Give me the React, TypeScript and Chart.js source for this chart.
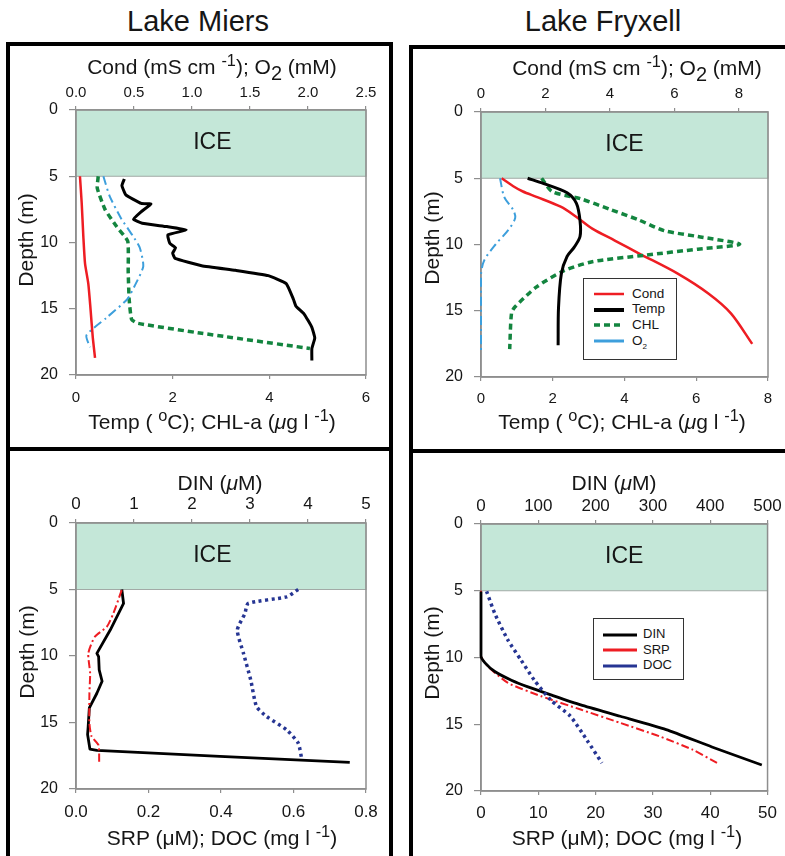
import React, { useEffect, useRef } from "react";
import { Chart, registerables } from "chart.js";

Chart.register(...registerables);

const FONT = '"Liberation Sans", Arial, Helvetica, sans-serif';
const TEXT = "#161616";
const AXIS = "#8e8e8e";

const RED = "#ee1d23";
const BLACK = "#000000";
const GREEN = "#13853f";
const SKY = "#3d9fdc";
const NAVY = "#263593";
const ICE_FILL = "#c4e7d8";

// ---- shared depth axis / ice layer ----
const DEPTH_TICKS = [0, 5, 10, 15, 20];
const ICE_FROM = 0;
const ICE_TO = 5;
const ICE_LABEL = "ICE";
const ICE_LABEL_DEPTH = 2.45;

// ---- Lake Miers: physical / biological ----
const MIERS_BOTTOM_TICKS = [0, 2, 4, 6]; // Temp; CHL-a
const MIERS_TOP_TICKS = [0, 0.5, 1, 1.5, 2, 2.5]; // Cond; O2

const miersCondDepth = [5.0, 7.0, 9.5, 11.6, 13.1, 15.1, 17.1, 18.7];
const miersCond = [0.034, 0.049, 0.063, 0.078, 0.106, 0.126, 0.144, 0.164];

const miersTempDepth = [5.2, 5.7, 6.4, 7.05, 7.1, 7.7, 8.25, 8.55, 8.8, 9.05, 9.43, 10.06, 10.4, 10.8, 11.2, 11.75, 12.1, 12.5, 13.1, 14.3, 14.8, 15.4, 16.4, 17.2, 18.0, 18.9];
const miersTemp = [1.0, 0.95, 1.03, 1.35, 1.55, 1.34, 1.19, 1.37, 1.88, 2.28, 1.9, 1.94, 2.06, 2.0, 2.05, 2.6, 3.3, 3.98, 4.35, 4.5, 4.55, 4.72, 4.88, 4.94, 4.88, 4.88];

const miersChlDepth = [5.0, 5.9, 7.5, 8.8, 9.9, 12.2, 14.3, 15.8, 16.1, 16.85, 18.0];
const miersChl = [0.46, 0.44, 0.6, 0.84, 1.07, 1.08, 1.1, 1.15, 1.28, 2.6, 4.84];

const miersO2Depth = [5.0, 6.5, 8.2, 9.5, 10.4, 11.8, 13.2, 14.3, 15.7, 17.0, 17.9];
const miersO2 = [0.236, 0.29, 0.39, 0.49, 0.55, 0.58, 0.51, 0.44, 0.26, 0.09, 0.12];

// ---- Lake Fryxell: physical / biological ----
const FRYX_BOTTOM_TICKS = [0, 2, 4, 6, 8];
const FRYX_TOP_TICKS = [0, 2, 4, 6, 8];

const fryxCondDepth = [5.0, 5.6, 6.0, 6.4, 7.15, 7.9, 8.8, 9.7, 10.7, 12.2, 13.7, 15.2, 17.5];
const fryxCond = [0.64, 1.0, 1.3, 1.72, 2.47, 2.95, 3.45, 4.15, 4.92, 6.1, 7.05, 7.75, 8.41];

const fryxTempDepth = [5.0, 5.4, 6.1, 6.9, 8.2, 9.4, 10.2, 10.9, 12.2, 14.8, 17.6];
const fryxTemp = [1.3, 1.75, 2.4, 2.66, 2.76, 2.76, 2.6, 2.4, 2.24, 2.16, 2.15];

const fryxChlDepth = [5.0, 6.0, 6.55, 7.35, 8.15, 8.95, 9.4, 9.98, 10.35, 10.8, 11.3, 12.0, 13.2, 14.7, 15.2, 17.9];
const fryxChl = [1.69, 1.98, 2.78, 3.6, 4.4, 5.1, 6.05, 7.21, 6.05, 4.6, 3.1, 2.3, 1.55, 0.95, 0.85, 0.8];

const fryxO2Depth = [5.0, 6.4, 7.4, 8.0, 8.9, 10.0, 11.2, 12.3, 18.0];
const fryxO2 = [0.59, 0.72, 1.0, 1.06, 0.85, 0.45, 0.1, 0.0, 0.0];

// ---- Lake Miers: nutrients ----
const MIERS_SRP_TICKS = [0, 0.2, 0.4, 0.6, 0.8]; // SRP; DOC
const MIERS_DIN_TICKS = [0, 1, 2, 3, 4, 5];

const miersDinDepth = [5.0, 6.05, 8.05, 9.8, 10.05, 11.05, 11.9, 12.8, 13.9, 15.3, 15.9, 17.0, 17.1, 17.55, 18.0];
const miersDin = [0.79, 0.82, 0.59, 0.36, 0.39, 0.4, 0.45, 0.36, 0.23, 0.21, 0.2, 0.24, 0.36, 2.48, 4.72];

const miersSrpDepth = [5.05, 6.8, 7.8, 8.55, 9.8, 11.3, 12.8, 15.05, 16.05, 16.7, 18.05];
const miersSrp = [0.126, 0.103, 0.085, 0.052, 0.034, 0.039, 0.037, 0.037, 0.043, 0.062, 0.064];

const miersDocDepth = [5.0, 5.55, 6.05, 6.8, 8.05, 9.8, 11.8, 13.8, 14.55, 15.55, 16.55, 17.8];
const miersDoc = [0.613, 0.581, 0.475, 0.466, 0.445, 0.462, 0.482, 0.498, 0.526, 0.581, 0.613, 0.623];

// ---- Lake Fryxell: nutrients ----
const FRYX_SRP_TICKS = [0, 10, 20, 30, 40, 50];
const FRYX_DIN_TICKS = [0, 100, 200, 300, 400, 500];

const fryxDinDepth = [5.05, 9.9, 10.4, 11.05, 11.7, 12.2, 12.8, 13.55, 14.4, 15.4, 16.7, 18.05];
const fryxDin = [0, 0, 7, 24, 53, 82, 122, 174, 243, 323, 403, 490];

const fryxSrpDepth = [5.0, 9.9, 10.7, 11.9, 12.9, 13.9, 14.9, 15.9, 16.9, 17.9];
const fryxSrp = [0, 0, 1.3, 4.7, 10.5, 17.4, 24.3, 31.1, 36.9, 41.2];

const fryxDocDepth = [5.05, 6.7, 8.7, 10.2, 11.7, 13.2, 14.4, 16.2, 17.9];
const fryxDoc = [0.98, 2.4, 4.7, 7.0, 9.3, 12.2, 15.6, 18.5, 21.1];

// ---------------------------------------------------------------

type AxisSpec = { min: number; max: number; ticks: number[]; digits: number; size: number; pad: number };
type PanelSpec = {
  rect: { x: number; y: number; w: number; h: number };
  area: { L: number; T: number; R: number; B: number };
  bottom: AxisSpec;
  top: AxisSpec;
  labelX: number;
  datasets: any[];
};

function series(label: string, depths: number[], values: number[], axis: string, color: string, width: number, dash: number[], tension: number) {
  return {
    label,
    data: depths.map((d, i) => ({ x: values[i], y: d })),
    xAxisID: axis,
    yAxisID: "y",
    borderColor: color,
    backgroundColor: color,
    borderWidth: width,
    borderDash: dash,
    tension,
    showLine: true,
    pointRadius: 0,
    pointHoverRadius: 0,
    fill: false,
    clip: 4,
    borderCapStyle: "butt",
    borderJoinStyle: "round",
  };
}

const icePlugin = {
  id: "iceLayer",
  beforeDatasetsDraw(chart: any, _args: any, opts: any) {
    const { ctx, chartArea: a, scales } = chart;
    const y = scales.y;
    const y0 = y.getPixelForValue(ICE_FROM);
    const y1 = y.getPixelForValue(ICE_TO);
    ctx.save();
    ctx.fillStyle = ICE_FILL;
    ctx.fillRect(a.left, y0, a.right - a.left, y1 - y0);
    ctx.strokeStyle = "#a2aaa6";
    ctx.lineWidth = 1;
    ctx.strokeRect(a.left, y0, a.right - a.left, y1 - y0);
    ctx.fillStyle = TEXT;
    ctx.font = `23px ${FONT}`;
    ctx.textAlign = "center";
    ctx.textBaseline = "middle";
    ctx.fillText(ICE_LABEL, a.left + (a.right - a.left) * (opts.labelX ?? 0.5), y.getPixelForValue(ICE_LABEL_DEPTH));
    // plot frame (under the data lines)
    ctx.strokeStyle = AXIS;
    ctx.lineWidth = 1.5;
    ctx.strokeRect(a.left, a.top, a.right - a.left, a.bottom - a.top);
    ctx.restore();
  },
};

function buildConfig(spec: PanelSpec): any {
  const { rect, area } = spec;
  const yWidth = area.L - rect.x;
  const topH = area.T - rect.y;
  const botH = rect.y + rect.h - area.B;
  const padRight = rect.w - (area.R - rect.x);

  const xAxis = (ax: AxisSpec, position: string, h: number) => ({
    type: "linear",
    axis: "x",
    position,
    min: ax.min,
    max: ax.max,
    afterBuildTicks: (s: any) => {
      s.ticks = ax.ticks.map((v) => ({ value: v }));
    },
    afterFit: (s: any) => {
      s.height = h;
    },
    grid: { display: true, drawOnChartArea: false, drawTicks: true, tickLength: 4, color: AXIS, lineWidth: 1.2 },
    border: { display: true, color: AXIS, width: 1.5 },
    ticks: {
      font: { family: FONT, size: ax.size },
      color: TEXT,
      padding: ax.pad,
      maxRotation: 0,
      autoSkip: false,
      callback: (v: any) => Number(v).toFixed(ax.digits),
    },
  });

  return {
    type: "scatter",
    data: { datasets: spec.datasets },
    plugins: [icePlugin],
    options: {
      responsive: false,
      maintainAspectRatio: false,
      animation: false,
      events: [],
      layout: { autoPadding: false, padding: { left: 0, top: 0, bottom: 0, right: padRight } },
      plugins: {
        legend: { display: false },
        tooltip: { enabled: false },
        iceLayer: { labelX: spec.labelX },
      },
      scales: {
        x: xAxis(spec.bottom, "bottom", botH),
        x2: xAxis(spec.top, "top", topH),
        y: {
          type: "linear",
          axis: "y",
          position: "left",
          reverse: true,
          min: 0,
          max: 20,
          afterBuildTicks: (s: any) => {
            s.ticks = DEPTH_TICKS.map((v) => ({ value: v }));
          },
          afterFit: (s: any) => {
            s.width = yWidth;
          },
          grid: { display: true, drawOnChartArea: false, drawTicks: true, tickLength: 7, color: AXIS, lineWidth: 1.2 },
          border: { display: true, color: AXIS, width: 1.5 },
          ticks: { font: { family: FONT, size: 16 }, color: TEXT, padding: 11, autoSkip: false },
        },
      },
    },
  };
}

function Panel({ spec }: { spec: PanelSpec }) {
  const ref = useRef<HTMLCanvasElement>(null);
  useEffect(() => {
    const chart = new Chart(ref.current as HTMLCanvasElement, buildConfig(spec));
    return () => chart.destroy();
  }, []);
  const r = spec.rect;
  return (
    <canvas
      ref={ref}
      width={r.w}
      height={r.h}
      style={{ position: "absolute", left: r.x, top: r.y, width: r.w, height: r.h }}
    />
  );
}

const TL: PanelSpec = {
  rect: { x: 28, y: 78, w: 360, h: 336 },
  area: { L: 76, T: 110, R: 366, B: 375 },
  bottom: { min: 0, max: 6, ticks: MIERS_BOTTOM_TICKS, digits: 0, size: 15, pad: 10 },
  top: { min: 0, max: 2.5, ticks: MIERS_TOP_TICKS, digits: 1, size: 15, pad: 4 },
  labelX: 0.47,
  datasets: [
    series("Cond", miersCondDepth, miersCond, "x2", RED, 2.5, [], 0.2),
    series("O2", miersO2Depth, miersO2, "x2", SKY, 2, [9, 4, 2, 4], 0.2),
    series("CHL", miersChlDepth, miersChl, "x", GREEN, 3.5, [6, 4], 0.15),
    series("Temp", miersTempDepth, miersTemp, "x", BLACK, 3, [], 0.12),
  ],
};

const TR: PanelSpec = {
  rect: { x: 438, y: 80, w: 347, h: 334 },
  area: { L: 481, T: 112, R: 768, B: 377 },
  bottom: { min: 0, max: 8, ticks: FRYX_BOTTOM_TICKS, digits: 0, size: 15, pad: 9 },
  top: { min: 0, max: 8.9, ticks: FRYX_TOP_TICKS, digits: 0, size: 15, pad: 5 },
  labelX: 0.5,
  datasets: [
    series("Temp", fryxTempDepth, fryxTemp, "x", BLACK, 3, [], 0.3),
    series("O2", fryxO2Depth, fryxO2, "x2", SKY, 2, [9, 4, 2, 4], 0.3),
    series("CHL", fryxChlDepth, fryxChl, "x", GREEN, 3.5, [6, 4], 0.25),
    series("Cond", fryxCondDepth, fryxCond, "x2", RED, 2.5, [], 0.3),
  ],
};

const BL: PanelSpec = {
  rect: { x: 28, y: 488, w: 360, h: 340 },
  area: { L: 76, T: 523, R: 366, B: 789 },
  bottom: { min: 0, max: 0.8, ticks: MIERS_SRP_TICKS, digits: 1, size: 17, pad: 9 },
  top: { min: 0, max: 5, ticks: MIERS_DIN_TICKS, digits: 0, size: 17, pad: 4 },
  labelX: 0.47,
  datasets: [
    series("DOC", miersDocDepth, miersDoc, "x", NAVY, 3.5, [3, 3.5], 0.2),
    series("SRP", miersSrpDepth, miersSrp, "x", RED, 2, [8, 3, 2, 3], 0.2),
    series("DIN", miersDinDepth, miersDin, "x2", BLACK, 2.8, [], 0),
  ],
};

const BR: PanelSpec = {
  rect: { x: 438, y: 490, w: 347, h: 340 },
  area: { L: 481, T: 524, R: 771, B: 791 },
  bottom: { min: 0, max: 50, ticks: FRYX_SRP_TICKS, digits: 0, size: 17, pad: 8 },
  top: { min: 0, max: 500, ticks: FRYX_DIN_TICKS, digits: 0, size: 17, pad: 3 },
  labelX: 0.5,
  datasets: [
    series("DOC", fryxDocDepth, fryxDoc, "x", NAVY, 3.5, [3, 3.5], 0.2),
    series("DIN", fryxDinDepth, fryxDin, "x2", BLACK, 2.8, [], 0.2),
    series("SRP", fryxSrpDepth, fryxSrp, "x", RED, 2, [8, 3, 2, 3], 0.2),
  ],
};

const Sup = ({ children }: any) => (
  <span style={{ fontSize: "0.78em", position: "relative", top: "-0.5em" }}>{children}</span>
);
const Sub = ({ children }: any) => (
  <span style={{ fontSize: "0.95em", position: "relative", top: "0.28em" }}>{children}</span>
);

function Label({ cx, base, size, children }: any) {
  return (
    <div
      style={{
        position: "absolute",
        left: cx,
        top: base - 0.85 * size,
        transform: "translateX(-50%)",
        fontSize: size,
        lineHeight: 1,
        whiteSpace: "nowrap",
      }}
    >
      {children}
    </div>
  );
}

function VLabel({ cx, cy, size, children }: any) {
  return (
    <div
      style={{
        position: "absolute",
        left: cx,
        top: cy,
        transform: "translate(-50%, -50%) rotate(-90deg)",
        fontSize: size,
        lineHeight: 1,
        whiteSpace: "nowrap",
      }}
    >
      {children}
    </div>
  );
}

type LegendItem = { label: any; color: string; width: number; dash: string };

function Legend({ x, y, w, h, rows, lineX, lineW, textX, size, items }: any) {
  return (
    <div
      style={{
        position: "absolute",
        left: x,
        top: y,
        width: w,
        height: h,
        border: "1.5px solid #333",
        boxSizing: "border-box",
        background: "#fff",
      }}
    >
      {items.map((it: LegendItem, i: number) => (
        <React.Fragment key={i}>
          <svg
            width={lineW}
            height={8}
            style={{ position: "absolute", left: lineX - x, top: rows[i] - y - 4 }}
          >
            <line x1={0} y1={4} x2={lineW} y2={4} stroke={it.color} strokeWidth={it.width} strokeDasharray={it.dash} />
          </svg>
          <div
            style={{
              position: "absolute",
              left: textX - x,
              top: rows[i] - y - size * 0.55,
              fontSize: size,
              lineHeight: 1,
              whiteSpace: "nowrap",
            }}
          >
            {it.label}
          </div>
        </React.Fragment>
      ))}
    </div>
  );
}

const box = (left: number, top: number, width: number, height: number): React.CSSProperties => ({
  position: "absolute",
  left,
  top,
  width,
  height,
  border: "4px solid #000",
  boxSizing: "border-box",
});

export default function App() {
  const condTitle = (
    <>
      Cond (mS cm <Sup>-1</Sup>); O<Sub>2</Sub> (mM)
    </>
  );
  const tempTitle = (
    <>
      Temp ( <Sup>o</Sup>C); CHL-a (<i>μ</i>g l <Sup>-1</Sup>)
    </>
  );
  const dinTitle = (
    <>
      DIN (<i>μ</i>M)
    </>
  );
  const srpTitle = (
    <>
      SRP (μM); DOC (mg l <Sup>-1</Sup>)
    </>
  );
  const T = 21;
  return (
    <div
      style={{
        position: "fixed",
        left: 0,
        top: 0,
        width: 785,
        height: 856,
        overflow: "hidden",
        background: "#fff",
        fontFamily: FONT,
        color: TEXT,
      }}
    >
      <div style={box(6, 42, 387, 409)} />
      <div style={box(6, 447, 387, 430)} />
      <div style={box(409, 45, 400, 408)} />
      <div style={box(409, 449, 400, 430)} />

      <Label cx={198} base={32} size={29}>Lake Miers</Label>
      <Label cx={603} base={32} size={29}>Lake Fryxell</Label>

      <Panel spec={TL} />
      <Panel spec={TR} />
      <Panel spec={BL} />
      <Panel spec={BR} />

      <Label cx={212} base={74} size={T}>{condTitle}</Label>
      <Label cx={637} base={75} size={T}>{condTitle}</Label>
      <Label cx={212} base={429} size={T}>{tempTitle}</Label>
      <Label cx={622} base={429} size={T}>{tempTitle}</Label>
      <Label cx={220} base={490} size={T}>{dinTitle}</Label>
      <Label cx={614} base={490} size={T}>{dinTitle}</Label>
      <Label cx={222} base={845} size={T}>{srpTitle}</Label>
      <Label cx={627} base={845} size={T}>{srpTitle}</Label>

      <VLabel cx={25} cy={240} size={T}>Depth (m)</VLabel>
      <VLabel cx={431} cy={238} size={T}>Depth (m)</VLabel>
      <VLabel cx={26} cy={652} size={T}>Depth (m)</VLabel>
      <VLabel cx={431} cy={653} size={T}>Depth (m)</VLabel>

      <Legend
        x={583}
        y={278}
        w={94}
        h={82}
        rows={[293, 308.5, 324, 340]}
        lineX={593}
        lineW={30}
        textX={631}
        size={13.5}
        items={[
          { label: "Cond", color: RED, width: 2.5, dash: "" },
          { label: "Temp", color: BLACK, width: 4, dash: "" },
          { label: " CHL", color: GREEN, width: 3.5, dash: "6 4" },
          { label: <>O<sub style={{ fontSize: "0.6em" }}>2</sub></>, color: SKY, width: 3, dash: "" },
        ]}
      />
      <Legend
        x={593}
        y={618}
        w={91}
        h={62}
        rows={[633.5, 649, 664.5]}
        lineX={602}
        lineW={34}
        textX={642}
        size={13}
        items={[
          { label: "DIN", color: BLACK, width: 3, dash: "" },
          { label: "SRP", color: RED, width: 3, dash: "" },
          { label: "DOC", color: NAVY, width: 3, dash: "" },
        ]}
      />
    </div>
  );
}
